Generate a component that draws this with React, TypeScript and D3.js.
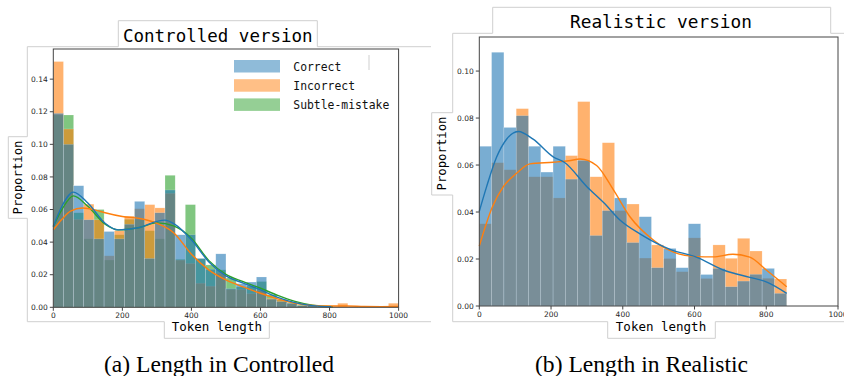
import React from "react";
import * as d3 from "d3";

// ---- data ----
const controlledCorrect = [
  0.119, 0.1, 0.0746, 0.0537, 0.042, 0.0465, 0.042, 0.051, 0.065, 0.03, 0.058, 0.072,
  0.0445, 0.0445, 0.03, 0.0234, 0.0328, 0.0115, 0.0145, 0.0155, 0.0186, 0.005, 0.0035,
  0.0025, 0.001, 0.001, 0.0005, 0, 0, 0, 0, 0, 0, 0,
];
const controlledIncorrect = [
  0.1508, 0.1094, 0.054, 0.0633, 0.0537, 0.0316, 0.047, 0.056, 0.0605, 0.063, 0.061, 0.07,
  0.029, 0.027, 0.0148, 0.013, 0.021, 0.011, 0.011, 0.0085, 0.0105, 0.0055, 0.0049,
  0.0025, 0.001, 0.0015, 0.0005, 0.0005, 0.0025, 0.0005, 0, 0, 0, 0.0025,
];
const controlledSubtle = [
  0.118, 0.118, 0.058, 0.042, 0.06, 0.029, 0.0445, 0.054, 0.054, 0.047, 0.042, 0.081,
  0.0295, 0.063, 0.0298, 0.026, 0.023, 0.018, 0.0125, 0.013, 0.0158, 0.0078, 0.0045,
  0.003, 0.0015, 0.0015, 0.001, 0, 0, 0, 0, 0, 0, 0,
];
const controlledMaxLen = 1000;

const realisticCorrect = [
  0.068, 0.108, 0.076, 0.081, 0.068, 0.057, 0.068, 0.054, 0.062, 0.03, 0.0406, 0.046,
  0.027, 0.038, 0.0163, 0.0245, 0.0163, 0.035, 0.0134, 0.016, 0.0082, 0.0106, 0.0135,
  0.016, 0.0054,
];
const realisticIncorrect = [
  0.035, 0.061, 0.058, 0.084, 0.055, 0.055, 0.046, 0.064, 0.087, 0.055, 0.0695, 0.0406,
  0.0434, 0.0204, 0.026, 0.0202, 0.0146, 0.029, 0.0117, 0.026, 0.0203, 0.0288, 0.0234,
  0.0118, 0.0115,
];
const realisticMaxLen = 857;

const controlledKdeCorrect: [number, number][] = [
  [0, 0.0496], [25, 0.062], [58, 0.0707], [100, 0.064], [150, 0.0516], [188, 0.0475],
  [250, 0.049], [300, 0.0527], [323, 0.0535], [350, 0.0512], [400, 0.0414], [450, 0.028],
  [500, 0.0193], [550, 0.0148], [600, 0.0107], [650, 0.0061], [700, 0.0029], [750, 0.001],
  [805, 0.0003],
];
const controlledKdeSubtle: [number, number][] = [
  [0, 0.0496], [25, 0.06], [58, 0.0684], [100, 0.062], [150, 0.051], [188, 0.0475],
  [250, 0.049], [300, 0.0518], [350, 0.0498], [400, 0.0424], [450, 0.0288], [500, 0.0202],
  [550, 0.0157], [600, 0.0117], [650, 0.0073], [700, 0.0036], [750, 0.0013], [810, 0.0003],
];
const controlledKdeIncorrect: [number, number][] = [
  [0, 0.0475], [25, 0.054], [50, 0.059], [85, 0.0609], [120, 0.0598], [150, 0.058],
  [200, 0.0557], [250, 0.0545], [300, 0.0515], [350, 0.0455], [400, 0.0326], [450, 0.023],
  [500, 0.0168], [550, 0.0125], [600, 0.0086], [650, 0.0052], [700, 0.0025], [750, 0.0012],
  [800, 0.0008], [850, 0.0008], [900, 0.0005], [950, 0.0004], [1000, 0.0005],
];
const realisticKdeCorrect: [number, number][] = [
  [0, 0.0403], [20, 0.0506], [48, 0.0633], [76, 0.071], [109, 0.0743], [150, 0.071],
  [206, 0.0635], [237, 0.0612], [300, 0.0508], [350, 0.0435], [392, 0.0366], [450, 0.0305],
  [532, 0.0241], [605, 0.0208], [686, 0.015], [754, 0.0122], [800, 0.0103], [857, 0.0054],
];
const realisticKdeIncorrect: [number, number][] = [
  [0, 0.0255], [36, 0.042], [67, 0.0508], [104, 0.0565], [141, 0.0605], [206, 0.0612],
  [250, 0.0618], [281, 0.0626], [327, 0.0598], [374, 0.0494], [420, 0.038], [486, 0.028],
  [540, 0.023], [605, 0.021], [652, 0.0209], [707, 0.022], [754, 0.0208], [800, 0.0153],
  [857, 0.0082],
];

const xTicks = [0, 200, 400, 600, 800, 1000];
const controlledYTicks = [0, 0.02, 0.04, 0.06, 0.08, 0.1, 0.12, 0.14];
const realisticYTicks = [0, 0.02, 0.04, 0.06, 0.08, 0.1];
const legendLabels = ["Correct", "Incorrect", "Subtle-mistake"];

const BLUE = "#1f77b4";
const ORANGE = "#ff7f0e";
const GREEN = "#2ca02c";
const MONO = "DejaVu Sans Mono, monospace";
const SANS = "DejaVu Sans, sans-serif";
const FRAME = "#cfcfcf";

type Series = { values: number[]; color: string; kde: [number, number][] };

function Hist({ x, y, series, maxLen }: any) {
  return (
    <g>
      {series.map((s: Series, si: number) => {
        const w = maxLen / s.values.length;
        return (
          <g key={si}>
            {s.values.map((v, i) =>
              v > 0 ? (
                <rect
                  key={i}
                  x={x(i * w)}
                  y={y(v)}
                  width={x((i + 1) * w) - x(i * w)}
                  height={y(0) - y(v)}
                  fill={s.color}
                  fillOpacity={0.6}
                  stroke="#ffffff"
                  strokeOpacity={0.35}
                  strokeWidth={0.5}
                />
              ) : null
            )}
          </g>
        );
      })}
      {series.map((s: Series, si: number) => {
        const line = d3
          .line<[number, number]>()
          .x((d) => x(d[0]))
          .y((d) => y(d[1]))
          .curve(d3.curveMonotoneX);
        return (
          <path key={"k" + si} d={line(s.kde) || ""} fill="none" stroke={s.color} strokeWidth={1.4} />
        );
      })}
    </g>
  );
}

function Axes({ x, y, yTicks }: any) {
  const [x0, x1] = x.range();
  const [y0, y1] = y.range();
  const fmt = d3.format(".2f");
  return (
    <g fontFamily={SANS} fontSize={7.5} fill="#262626">
      <rect x={x0} y={y1} width={x1 - x0} height={y0 - y1} fill="none" stroke="#444" strokeWidth={1} />
      {yTicks.map((t: number) => (
        <g key={t}>
          <line x1={x0 - 3.5} x2={x0} y1={y(t)} y2={y(t)} stroke="#444" />
          <text x={x0 - 5.5} y={y(t) + 2.7} textAnchor="end">
            {fmt(t)}
          </text>
        </g>
      ))}
      {xTicks.map((t) => (
        <g key={t}>
          <line x1={x(t)} x2={x(t)} y1={y0} y2={y0 + 3.5} stroke="#444" />
          <text x={x(t)} y={y0 + 11} textAnchor="middle">
            {t}
          </text>
        </g>
      ))}
    </g>
  );
}

export default function App() {
  // left panel scales
  const xL = d3.scaleLinear().domain([0, 1000]).range([53.3, 398.6]);
  const yL = d3.scaleLinear().domain([0, 0.1585]).range([307.3, 49]);
  // right panel scales
  const xR = d3.scaleLinear().domain([0, 1000]).range([479.3, 838]);
  const yR = d3.scaleLinear().domain([0, 0.1145]).range([306, 37]);

  const controlledSeries: Series[] = [
    { values: controlledSubtle, color: GREEN, kde: controlledKdeSubtle },
    { values: controlledIncorrect, color: ORANGE, kde: controlledKdeIncorrect },
    { values: controlledCorrect, color: BLUE, kde: controlledKdeCorrect },
  ];
  const realisticSeries: Series[] = [
    { values: realisticIncorrect, color: ORANGE, kde: realisticKdeIncorrect },
    { values: realisticCorrect, color: BLUE, kde: realisticKdeCorrect },
  ];
  const legendColors = [BLUE, ORANGE, GREEN];

  return (
    <svg
      width={844}
      height={376}
      style={{ position: "absolute", left: 0, top: 0, background: "#fff" }}
    >
      <rect width={844} height={376} fill="#fff" />

      {/* label frames */}
      <g fill="none" stroke={FRAME} strokeWidth={1}>
        <path d="M118.3,46.7 L27.3,46.7 L27.3,136.7 L8.3,136.7 L8.3,218.3 L27.3,218.3 L27.3,321.7 L164.3,321.7 L164.3,338.3 L269.3,338.3 L269.3,321.7 L431,321.7" />
        <path d="M118.3,46.7 L118.3,20.7 L317.3,20.7 L317.3,46.7 L431,46.7" />
        <path d="M492.7,33.3 L452.7,33.3 L452.7,112.7 L431.7,112.7 L431.7,195 L452.7,195 L452.7,321.7 L607.7,321.7 L607.7,338.3 L715.3,338.3 L715.3,321.7 L844,321.7" />
        <path d="M492.7,33.3 L492.7,7.3 L830.7,7.3 L830.7,33.3 L844,33.3" />
        <path d="M369,55 L369,70" />
      </g>

      {/* left: Controlled */}
      <Hist x={xL} y={yL} series={controlledSeries} maxLen={controlledMaxLen} />
      <Axes x={xL} y={yL} yTicks={controlledYTicks} />
      <text x={217.8} y={41.7} textAnchor="middle" fontFamily={MONO} fontSize={17.5} fill="#000">
        Controlled version
      </text>
      <text transform="translate(22,177.5) rotate(-90)" textAnchor="middle" fontFamily={MONO} fontSize={12.3} fill="#000">
        Proportion
      </text>
      <text x={216.8} y={331} textAnchor="middle" fontFamily={MONO} fontSize={12.5} fill="#000">
        Token length
      </text>
      {legendLabels.map((l, i) => (
        <g key={l}>
          <rect x={234} y={60 + i * 19.2} width={46} height={12.5} fill={legendColors[i]} fillOpacity={0.5} />
          <text x={293.3} y={70.7 + i * 19.2} fontFamily={MONO} fontSize={11.4} fill="#111">
            {l}
          </text>
        </g>
      ))}

      {/* right: Realistic */}
      <Hist x={xR} y={yR} series={realisticSeries} maxLen={realisticMaxLen} />
      <Axes x={xR} y={yR} yTicks={realisticYTicks} />
      <text x={661} y={28.3} textAnchor="middle" fontFamily={MONO} fontSize={17.8} fill="#000">
        Realistic version
      </text>
      <text transform="translate(445.5,153.5) rotate(-90)" textAnchor="middle" fontFamily={MONO} fontSize={12.3} fill="#000">
        Proportion
      </text>
      <text x={661} y={331} textAnchor="middle" fontFamily={MONO} fontSize={12.5} fill="#000">
        Token length
      </text>

      {/* captions */}
      <text x={219} y={371.7} textAnchor="middle" fontFamily="Liberation Serif, serif" fontSize={23.6} fill="#000">
        (a) Length in Controlled
      </text>
      <text x={641.5} y={371.7} textAnchor="middle" fontFamily="Liberation Serif, serif" fontSize={23.6} fill="#000">
        (b) Length in Realistic
      </text>
    </svg>
  );
}
